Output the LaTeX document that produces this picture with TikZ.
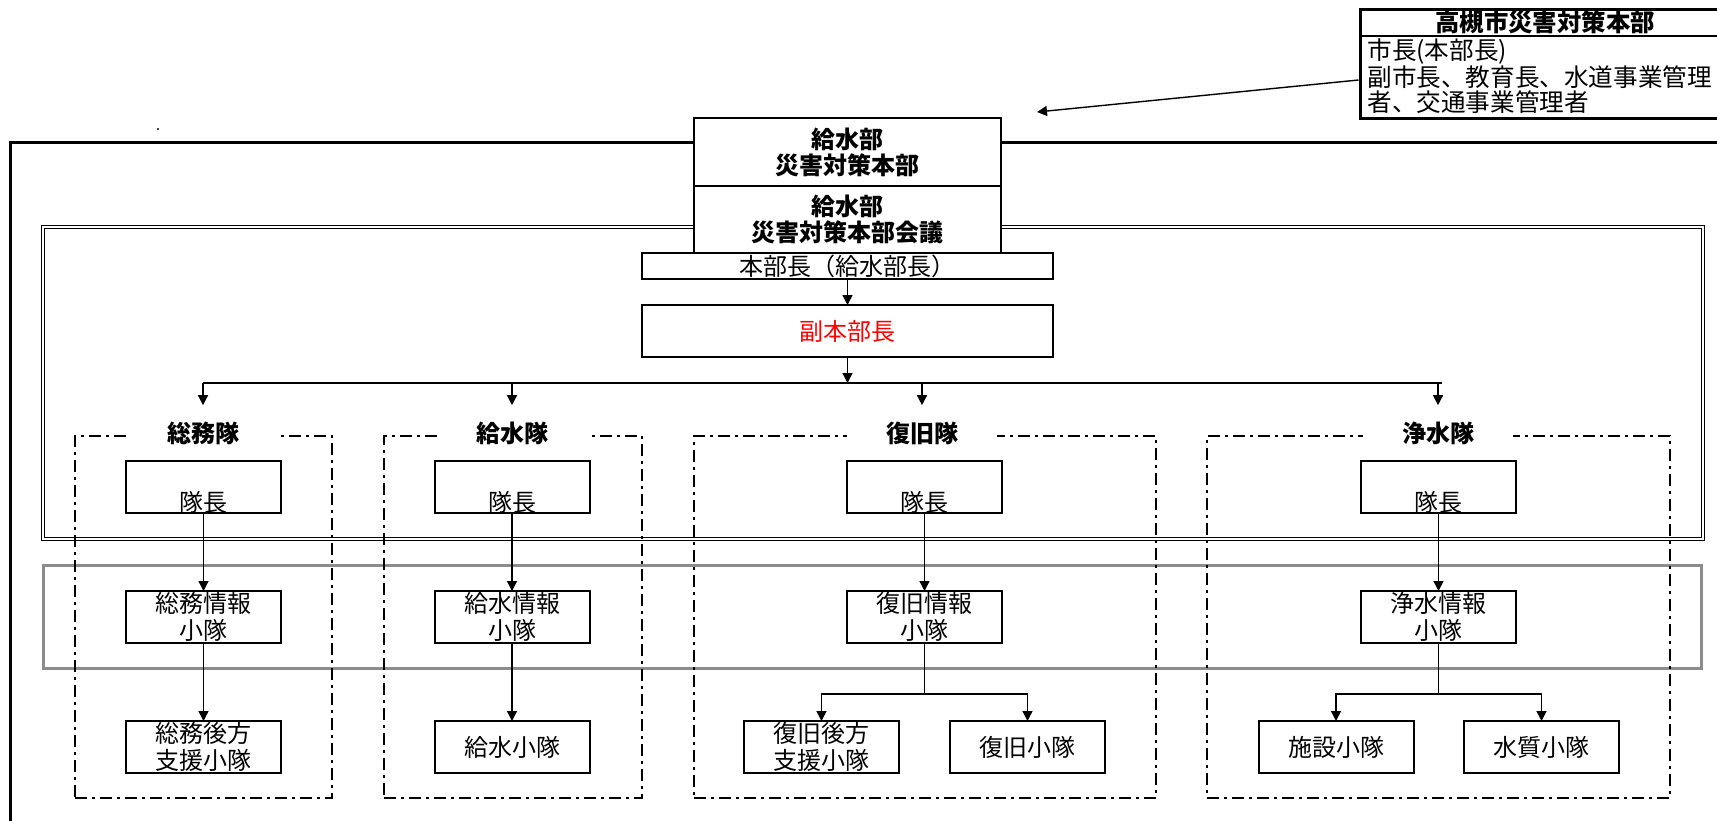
\documentclass[tikz,border=0pt]{standalone}
\usepackage{fontspec}
\setmainfont{Noto Sans CJK JP}
\usetikzlibrary{arrows.meta}
\begin{document}
\begin{tikzpicture}[x=0.5pt,y=-0.5pt,
  box/.style={draw,line width=1pt,fill=white,inner sep=0pt,outer sep=0pt,align=center,
    font=\fontsize{12}{13.5}\selectfont},
  sbox/.style={box,minimum width=77.5pt,minimum height=26pt},
  hdr/.style={box,minimum width=153.5pt,font=\bfseries\fontsize{12}{13}\selectfont},
  team/.style={draw,line width=1pt,inner sep=0pt,dash pattern=on 6pt off 2.5pt on 1.5pt off 2.5pt,
    minimum height=181pt},
  ttl/.style={fill=white,inner sep=0pt,minimum width=75pt,font=\bfseries\fontsize{12}{13}\selectfont},
  lead/.style={label={[anchor=center,yshift=5.5pt,font=\fontsize{12}{13.5}\selectfont]south:隊長}},
  arr/.style={-{Triangle[length=5pt,width=5pt]},line width=0.7pt},
  ln/.style={line width=0.7pt}
]
\useasboundingbox (0,0) rectangle (1717,820);
\clip (0,0) rectangle (1717,820);

% outer frame, inner double frame, grey band
\draw[line width=1.5pt] (1740,142) -- (10,142) -- (10,840);
\draw[line width=0.6pt,double,double distance=0.7pt] (43,227) rectangle (1703,539);
\draw[line width=1.5pt,draw=black!45] (43,565) rectangle (1701,668);
\fill (158,129) circle (0.6pt);

% team frames
\node[team,minimum width=128.5pt] (tm1) at (203.5,617) {};
\node[team,minimum width=129pt] (tm2) at (513,617) {};
\node[team,minimum width=231pt] (tm3) at (925,617) {};
\node[team,minimum width=231.5pt] (tm4) at (1438.5,617) {};

% city headquarters
\node[draw,line width=1.5pt,fill=white,inner sep=0pt,minimum width=185pt,minimum height=54.5pt] (hq) at (1545,63.5) {};
\coordinate (s1) at (0,36);
\coordinate (s2) at (0,80);
\draw[line width=1pt] (hq.west |- s1) -- (hq.east |- s1);
\node[inner sep=0pt,font=\bfseries\fontsize{12.2}{13}\selectfont] (hqt) at (1545,22) {高槻市災害対策本部};
\node[anchor=west,inner sep=0pt,align=left,font=\fontsize{12.3}{12.2}\selectfont] (hqb) at (1367,76)
  {市長(本部長)\\副市長、教育長、水道事業管理\\者、交通事業管理者};
\coordinate (tgt) at (1037,112);
\draw[arr] (hq.west |- s2) -- (tgt);

% division headquarters
\node[hdr,minimum height=34pt] (hd1) at (847.5,152) {給水部\\災害対策本部};
\node[hdr,minimum height=33.5pt] (hd2) at (847.5,219.5) {給水部\\災害対策本部会議};
\node[box,minimum width=205.5pt,minimum height=13pt] (hbc) at (847.5,266) {本部長（給水部長）};
\node[box,minimum width=205.5pt,minimum height=26pt,text=red] (fuku) at (847.5,331) {副本部長};

% team titles
\node[ttl] (t1) at (203,433) {総務隊};
\node[ttl] (t2) at (512,433) {給水隊};
\node[ttl] (t3) at (922,433) {復旧隊};
\node[ttl] (t4) at (1438,433) {浄水隊};

% leaders
\node[sbox,lead] (c1) at (203.5,487) {};
\node[sbox,lead] (c2) at (512,487) {};
\node[sbox,lead] (c3) at (924.5,487) {};
\node[sbox,lead] (c4) at (1438.5,487) {};

% information units
\node[sbox] (i1) at (203.5,617) {総務情報\\小隊};
\node[sbox] (i2) at (512,617) {給水情報\\小隊};
\node[sbox] (i3) at (924.5,617) {復旧情報\\小隊};
\node[sbox] (i4) at (1438.5,617) {浄水情報\\小隊};

% bottom units
\node[sbox] (b1) at (203.5,747) {総務後方\\支援小隊};
\node[sbox] (b2) at (512,747) {給水小隊};
\node[sbox] (b3a) at (821.5,747) {復旧後方\\支援小隊};
\node[sbox] (b3b) at (1027.5,747) {復旧小隊};
\node[sbox] (b4a) at (1336,747) {施設小隊};
\node[sbox] (b4b) at (1541.5,747) {水質小隊};

% connectors
\draw[arr] (hbc.south) -- (fuku.north);
\coordinate (bar) at (0,383);
\draw[arr] (fuku.south) -- (fuku.south |- bar);
\draw[ln] (t1.north |- bar) -- ([xshift=2pt]t4.north |- bar);
\foreach \t in {t1,t2,t3,t4}{
  \draw[arr] (\t.north |- bar) -- ([yshift=8pt]\t.north);
}
\foreach \k in {1,2,3,4}{
  \draw[arr] (c\k.south) -- (i\k.north);
}
\draw[arr] (i1.south) -- (b1.north);
\draw[arr] (i2.south) -- (b2.north);
\draw[arr] (i3.south) -- ++(0,51) -| (b3a.north);
\draw[arr] (i3.south) -- ++(0,51) -| (b3b.north);
\draw[arr] (i4.south) -- ++(0,51) -| (b4a.north);
\draw[arr] (i4.south) -- ++(0,51) -| (b4b.north);
\end{tikzpicture}
\end{document}
